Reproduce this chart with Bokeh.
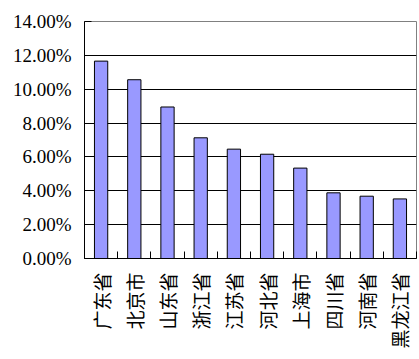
import math
import numpy as np
from bokeh.plotting import figure
from bokeh.models import Range1d, FixedTicker, NumeralTickFormatter, ColumnDataSource
from bokeh.embed import file_html
from bokeh.resources import INLINE

provinces = ["广东省", "北京市", "山东省", "浙江省", "江苏省", "河北省", "上海市", "四川省", "河南省", "黑龙江省"]
shares = [0.1166, 0.1056, 0.0895, 0.0713, 0.0646, 0.0616, 0.0534, 0.0388, 0.0368, 0.0352]
y_ticks = [0.0, 0.02, 0.04, 0.06, 0.08, 0.10, 0.12, 0.14]

n = len(provinces)
centers = [i + 0.5 for i in range(n)]
bounds = list(range(n + 1))

src = ColumnDataSource(dict(x=centers, top=shares, name=provinces))

p = figure(width=419, height=359, output_backend="svg", toolbar_location=None,
           x_range=Range1d(0, n), y_range=Range1d(0, 0.14),
           min_border_left=84, min_border_right=3, min_border_top=21, min_border_bottom=101)
p.background_fill_color = "white"
p.border_fill_color = "white"
p.outline_line_color = "#808080"
p.outline_line_width = 1

p.vbar(x="x", top="top", width=0.4, bottom=0, source=src,
       fill_color="#9999FF", line_color="black", line_width=1)

# y axis
ya = p.yaxis[0]
ya.ticker = FixedTicker(ticks=y_ticks)
ya.formatter = NumeralTickFormatter(format="0.00%")
ya.major_tick_in = 7
ya.major_tick_out = 0
ya.minor_tick_line_color = None
ya.axis_line_color = "black"
ya.major_tick_line_color = "black"
ya.major_label_standoff = 13
ya.major_label_text_font = "Liberation Serif"
ya.major_label_text_font_size = "19px"
ya.major_label_text_color = "black"

# x axis
xa = p.xaxis[0]
xa.ticker = FixedTicker(ticks=centers, minor_ticks=bounds)
xa.major_label_overrides = {c: name for c, name in zip(centers, provinces)}
xa.major_tick_in = 0
xa.major_tick_out = 0
xa.major_tick_line_color = None
xa.minor_tick_in = 7
xa.minor_tick_out = 0
xa.minor_tick_line_color = "black"
xa.axis_line_color = "black"
xa.major_label_orientation = math.pi / 2
xa.major_label_standoff = 14
xa.major_label_text_font = "Noto Sans CJK SC"
xa.major_label_text_font_size = "19px"
xa.major_label_text_color = "black"

p.xgrid.grid_line_color = None
p.ygrid.ticker = FixedTicker(ticks=y_ticks[1:-1])
p.ygrid.grid_line_color = "black"
p.ygrid.grid_line_width = 1

open("out.html", "w").write(file_html(p, INLINE))
